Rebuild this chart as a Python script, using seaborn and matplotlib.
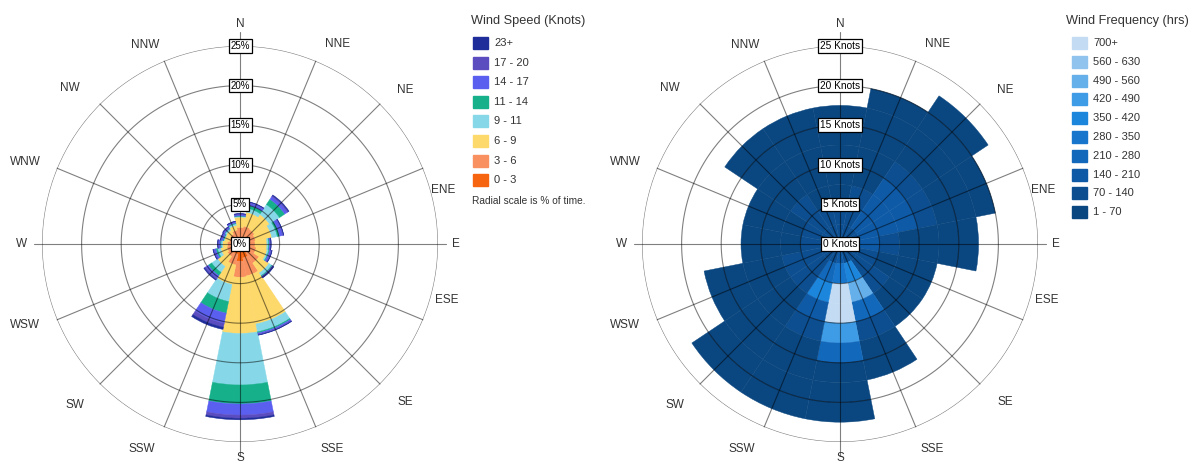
import numpy as np
import matplotlib
matplotlib.use("Agg")
import matplotlib.pyplot as plt
from matplotlib.patches import Rectangle
import seaborn as sns

sns.set_theme(style="white")
plt.rcParams["font.family"] = ["Liberation Sans", "DejaVu Sans"]

# ---------------------------------------------------------------- data
directions = ["N", "NNE", "NE", "ENE", "E", "ESE", "SE", "SSE",
              "S", "SSW", "SW", "WSW", "W", "WNW", "NW", "NNW"]

# percent of time per direction, by wind speed class (knots)
speed_0_3 = [0.9, 1.0, 1.0, 0.9, 0.9, 1.0, 1.3, 1.8, 2.2, 1.3, 1.0, 0.9, 0.8, 0.7, 0.8, 0.9]
speed_3_6 = [1.2, 1.3, 1.2, 1.1, 1.0, 1.1, 1.6, 2.3, 2.0, 1.4, 0.9, 0.8, 0.8, 0.7, 0.7, 0.9]
speed_6_9 = [1.3, 1.8, 2.3, 2.1, 1.5, 1.4, 1.5, 6.2, 7.1, 2.5, 1.5, 0.8, 0.6, 0.6, 0.6, 0.6]
speed_9_11 = [0.1, 0.5, 1.5, 0.7, 0.2, 0.2, 0.4, 1.0, 6.5, 2.2, 0.9, 0.4, 0.2, 0.1, 0.2, 0.2]
speed_11_14 = [0.05, 0.4, 0.8, 0.3, 0.1, 0.1, 0.1, 0.15, 2.4, 1.5, 0.5, 0.2, 0.1, 0.1, 0.05, 0.1]
speed_14_17 = [0.15, 0.3, 0.4, 0.4, 0.15, 0.2, 0.15, 0.15, 1.4, 1.3, 0.4, 0.25, 0.2, 0.2, 0.15, 0.15]
speed_17_20 = [0.1, 0.1, 0.15, 0.1, 0.05, 0.1, 0.05, 0.1, 0.4, 0.5, 0.2, 0.1, 0.1, 0.1, 0.1, 0.05]
speed_23_up = [0.05, 0.05, 0.1, 0.05, 0.05, 0.05, 0.05, 0.05, 0.2, 0.3, 0.1, 0.05, 0.05, 0.05, 0.05, 0.05]

speed_labels = ["0 - 3", "3 - 6", "6 - 9", "9 - 11", "11 - 14", "14 - 17", "17 - 20", "23+"]
speed_colors = ["#f6640f", "#f8915f", "#fdd86a", "#86d8e8",
                "#16b08b", "#5a5ff0", "#5b4cbf", "#1f2d9a"]

pct_ticks = [0, 5, 10, 15, 20, 25]

# hours per direction, in 2.5-knot speed bins starting at 0 knots
hours_N = [100, 90, 60, 40, 30, 20, 10]
hours_NNE = [100, 120, 100, 60, 40, 30, 20, 10]
hours_NE = [110, 160, 180, 190, 110, 60, 40, 20, 10]
hours_ENE = [110, 170, 190, 150, 80, 40, 20, 10]
hours_E = [100, 150, 110, 60, 30, 20, 10]
hours_ESE = [100, 90, 60, 30, 10]
hours_SE = [110, 100, 80, 40, 10]
hours_SSE = [120, 380, 520, 250, 90, 40, 10]
hours_S = [150, 300, 720, 740, 450, 230, 60, 30, 10]
hours_SSW = [120, 240, 380, 180, 100, 60, 40, 20, 10]
hours_SW = [100, 100, 90, 60, 40, 30, 20, 15, 10]
hours_WSW = [100, 90, 70, 40, 20, 15, 10]
hours_W = [100, 90, 50, 20, 10]
hours_WNW = [100, 80, 50, 20, 10]
hours_NW = [100, 90, 70, 40, 20, 15, 10]
hours_NNW = [100, 90, 60, 40, 20, 15, 10]
speed_bin = 2.5

freq_labels = ["700+", "560 - 630", "490 - 560", "420 - 490", "350 - 420",
               "280 - 350", "210 - 280", "140 - 210", "70 - 140", "1 - 70"]
freq_lower = [700, 560, 490, 420, 350, 280, 210, 140, 70, 1]
freq_colors = ["#c4dcf3", "#90c3ee", "#65afea", "#3e9ce6", "#1c86dd",
               "#1776cc", "#1268bb", "#0e5aa6", "#0c4e90", "#0a467f"]

knot_ticks = [0, 5, 10, 15, 20, 25]

# compass label placement: (right, up) offsets from the rose centre, in pixels
label_offsets = [(0, 220), (98, 200), (165, 154), (203, 54), (216, 0), (207, -56),
                 (165, -158), (92, -205), (0, -214), (-98, -205), (-165, -161),
                 (-215, -81), (-218, 0), (-215, 82), (-170, 156), (-95, 199)]

# ---------------------------------------------------------------- layout
W, H = 1197, 466
fig = plt.figure(figsize=(W / 100, H / 100), dpi=100)
fig.patch.set_facecolor("white")

RADIUS_PX = 198


def fx(px):
    return px / W


def fy(py):
    return 1 - py / H


def polar_axes(cx, cy):
    return fig.add_axes([(cx - RADIUS_PX) / W, (H - cy - RADIUS_PX) / H,
                         2 * RADIUS_PX / W, 2 * RADIUS_PX / H], projection="polar")


theta = np.deg2rad(np.arange(16) * 22.5)
sector = 2 * np.pi / 16
grid_kw = dict(color="black", alpha=0.5, lw=0.8, zorder=5)


def dress(ax, cx, cy, ring_values, ring_fmt, ring_size):
    ax.set_theta_zero_location("N")
    ax.set_theta_direction(-1)
    ax.set_ylim(0, 25)
    ax.grid(False)
    ax.set_xticks([])
    ax.set_yticks([])
    ax.spines["polar"].set_visible(False)
    ax.set_facecolor("none")
    circ = np.linspace(0, 2 * np.pi, 500)
    for r in ring_values[1:]:
        ax.plot(circ, np.full_like(circ, r), **grid_kw)
    for i, t in enumerate(theta):
        if i % 8 == 0:
            reach = 26.8      # N-S axis
        elif i % 4 == 0:
            reach = 26.0      # E-W axis
        else:
            reach = 25
        ax.plot([t, t], [0, reach], clip_on=False, **grid_kw)
    for name, (dx, dy) in zip(directions, label_offsets):
        fig.text(fx(cx + dx), fy(cy - dy), name, ha="center", va="center",
                 fontsize=8.5, color="#333333")
    for r in ring_values:
        ax.text(0, r, ring_fmt.format(r), ha="center", va="center",
                fontsize=ring_size, color="black", zorder=10,
                bbox=dict(boxstyle="square,pad=0.18", fc="white", ec="black", lw=0.9))


# ---------------------------------------------------------------- left: wind rose (% of time)
axL = polar_axes(240, 244)
layers = [speed_0_3, speed_3_6, speed_6_9, speed_9_11,
          speed_11_14, speed_14_17, speed_17_20, speed_23_up]
bottom = np.zeros(16)
for vals, col in zip(layers, speed_colors):
    vals = np.asarray(vals)
    axL.bar(theta, vals, width=sector, bottom=bottom, color=col,
            edgecolor=col, linewidth=0.3, zorder=2)
    bottom = bottom + vals
dress(axL, 240, 244, pct_ticks, "{}%", 7)

# ---------------------------------------------------------------- right: frequency by speed (hrs)
axR = polar_axes(840, 244)
hours = [hours_N, hours_NNE, hours_NE, hours_ENE, hours_E, hours_ESE, hours_SE, hours_SSE,
         hours_S, hours_SSW, hours_SW, hours_WSW, hours_W, hours_WNW, hours_NW, hours_NNW]


def freq_color(v):
    for lo, c in zip(freq_lower, freq_colors):
        if v >= lo:
            return c
    return freq_colors[-1]


for t, col_hours in zip(theta, hours):
    for k, v in enumerate(col_hours):
        c = freq_color(v)
        axR.bar(t, speed_bin, width=sector, bottom=k * speed_bin, color=c,
                edgecolor=c, linewidth=0.3, zorder=2)
dress(axR, 840, 244, knot_ticks, "{} Knots", 7.3)

# ---------------------------------------------------------------- legends
text_kw = dict(fontsize=8, color="#333333", va="center", ha="left")

fig.text(fx(471), fy(21), "Wind Speed (Knots)", fontsize=9.2, color="#333333",
         va="center", ha="left")
for i, (lab, col) in enumerate(zip(speed_labels[::-1], speed_colors[::-1])):
    yc = 43 + i * 19.6
    fig.patches.append(Rectangle((fx(473), fy(yc + 6)), 15 / W, 12 / H, color=col,
                                 transform=fig.transFigure, figure=fig))
    fig.text(fx(494), fy(yc), lab, **text_kw)
fig.text(fx(472), fy(201), "Radial scale is % of time.", fontsize=7.3,
         color="#333333", va="center", ha="left")

fig.text(fx(1066), fy(21), "Wind Frequency (hrs)", fontsize=9.2, color="#333333",
         va="center", ha="left")
for i, (lab, col) in enumerate(zip(freq_labels, freq_colors)):
    yc = 43 + i * 18.8
    fig.patches.append(Rectangle((fx(1072), fy(yc + 6)), 15 / W, 12 / H, color=col,
                                 transform=fig.transFigure, figure=fig))
    fig.text(fx(1093), fy(yc), lab, **text_kw)

fig.savefig("out.png", dpi=100, facecolor="white")
